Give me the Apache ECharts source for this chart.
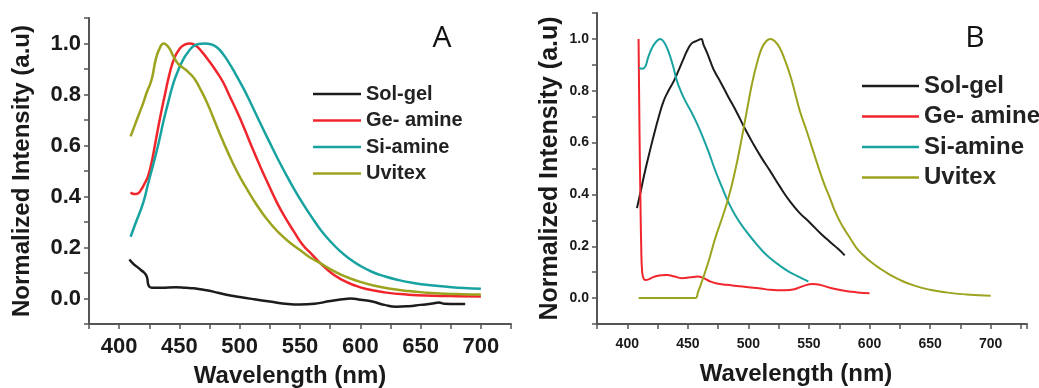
<!DOCTYPE html>
<html>
<head>
<meta charset="utf-8">
<script src="https://cdn.jsdelivr.net/npm/echarts@6/dist/echarts.min.js"></script>
<style>
  html, body { margin: 0; padding: 0; background: #fff; }
  #chart { width: 1039px; height: 388px; }
</style>
</head>
<body>
<div id="chart"></div>
<script>
// panel A: [wavelength nm, normalized intensity]
const solgelA = [[408.5, 0.153], [412, 0.135], [415, 0.124], [418, 0.112], [421, 0.1], [423, 0.085], [424.5, 0.05], [427, 0.042], [435, 0.042], [447, 0.044], [455, 0.042], [462, 0.04], [470, 0.034], [478, 0.027], [488, 0.016], [500, 0.006], [512, -0.003], [525, -0.012], [540, -0.022], [550, -0.024], [562, -0.021], [575, -0.01], [585, -0.003], [592, 0.0], [600, -0.005], [610, -0.012], [620, -0.025], [630, -0.032], [640, -0.03], [650, -0.025], [660, -0.02], [665, -0.016], [670, -0.021], [680, -0.022], [687, -0.022]]
const geA = [[409.5, 0.416], [412, 0.41], [415, 0.411], [418, 0.425], [421, 0.45], [424, 0.48], [427, 0.535], [430, 0.61], [434, 0.71], [438, 0.8], [442, 0.885], [446, 0.945], [450, 0.978], [454, 0.995], [459, 1.0], [464, 0.99], [469, 0.965], [474, 0.935], [480, 0.895], [486, 0.85], [492, 0.79], [498, 0.73], [504, 0.665], [510, 0.595], [517, 0.518], [524, 0.445], [531, 0.375], [538, 0.315], [545, 0.262], [552, 0.212], [560, 0.172], [567, 0.138], [576, 0.1], [585, 0.073], [595, 0.052], [605, 0.037], [620, 0.024], [640, 0.015], [660, 0.011], [680, 0.009], [700, 0.008]]
const siA = [[409.5, 0.242], [414, 0.3], [420, 0.376], [424, 0.45], [428.5, 0.53], [433, 0.615], [437, 0.7], [441, 0.775], [445, 0.845], [449, 0.895], [453, 0.936], [457, 0.965], [461.5, 0.989], [466, 0.998], [471, 1.0], [476, 0.997], [481, 0.985], [486, 0.96], [491, 0.925], [496, 0.885], [503, 0.825], [510, 0.758], [517, 0.688], [524, 0.62], [531, 0.553], [538, 0.49], [545, 0.43], [552, 0.375], [560, 0.317], [567, 0.27], [575, 0.225], [583, 0.187], [591, 0.156], [600, 0.128], [610, 0.104], [620, 0.087], [632, 0.072], [644, 0.061], [658, 0.052], [672, 0.046], [686, 0.041], [700, 0.038]]
const uvA = [[409.5, 0.636], [413, 0.68], [417, 0.73], [420, 0.767], [423, 0.81], [426, 0.845], [428, 0.88], [430, 0.93], [433, 0.975], [437, 1.0], [441, 0.985], [445, 0.95], [449, 0.92], [453, 0.905], [458, 0.885], [463, 0.858], [468, 0.815], [473, 0.767], [478, 0.71], [484, 0.64], [490, 0.575], [497, 0.505], [504, 0.445], [511, 0.39], [518, 0.34], [525, 0.297], [533, 0.255], [542, 0.218], [550, 0.19], [558, 0.162], [567, 0.138], [575, 0.115], [583, 0.096], [591, 0.08], [600, 0.065], [612, 0.05], [625, 0.038], [640, 0.029], [655, 0.023], [670, 0.019], [685, 0.017], [700, 0.016]]

// panel B
const solgelB = [[408, 0.347], [411, 0.41], [414, 0.476], [418, 0.555], [422, 0.63], [426, 0.7], [430, 0.76], [434, 0.8], [438.7, 0.84], [442, 0.875], [446.6, 0.925], [450, 0.96], [453, 0.982], [456, 0.99], [459, 0.996], [461, 1.0], [463, 0.977], [466, 0.945], [468.6, 0.913], [472, 0.875], [476.8, 0.835], [483, 0.78], [490, 0.72], [497, 0.655], [504, 0.595], [511, 0.54], [518, 0.49], [526, 0.43], [534, 0.375], [542, 0.33], [551, 0.29], [559, 0.252], [567, 0.218], [574, 0.19], [579.5, 0.165]]
const geB = [[409.3, 1.0], [410.2, 0.6], [410.8, 0.4], [411.5, 0.2], [412.3, 0.1], [413.5, 0.075], [415, 0.07], [418, 0.073], [422, 0.082], [428, 0.088], [433, 0.089], [439, 0.083], [445, 0.077], [452, 0.08], [458, 0.083], [463, 0.077], [468, 0.065], [474, 0.056], [482, 0.051], [490, 0.047], [500, 0.042], [510, 0.037], [518, 0.032], [530, 0.03], [538, 0.034], [545, 0.046], [553, 0.054], [560, 0.05], [568, 0.039], [578, 0.029], [590, 0.022], [600, 0.019]]
const siB = [[409.9, 0.889], [412, 0.885], [414.8, 0.893], [417, 0.925], [420.3, 0.964], [424, 0.99], [427.2, 1.0], [430, 0.99], [434, 0.951], [437.5, 0.9], [441, 0.838], [444.5, 0.795], [448, 0.76], [452.7, 0.72], [457.4, 0.675], [462, 0.625], [467, 0.566], [472, 0.5], [478, 0.43], [483, 0.375], [489, 0.321], [497, 0.265], [505.5, 0.215], [512, 0.18], [518, 0.154], [526, 0.125], [533, 0.103], [540, 0.086], [545, 0.074], [549.5, 0.064]]
const uvB = [[409.4, 0.0], [430, 0.0], [456, 0.0], [458.5, 0.025], [461.6, 0.064], [467, 0.14], [472.6, 0.231], [478, 0.305], [483.5, 0.386], [489, 0.49], [494.5, 0.617], [499, 0.73], [502.8, 0.823], [507, 0.905], [511, 0.964], [514.5, 0.99], [518, 1.0], [522, 0.99], [526, 0.964], [530, 0.92], [534.4, 0.861], [538, 0.8], [542.6, 0.72], [547, 0.66], [551, 0.603], [555, 0.545], [559, 0.488], [563, 0.435], [567.4, 0.385], [571, 0.34], [575.6, 0.295], [580, 0.26], [584, 0.231], [589, 0.195], [595, 0.165], [601, 0.14], [608.6, 0.114], [617, 0.09], [625, 0.07], [637, 0.048], [650, 0.032], [663, 0.022], [680, 0.014], [700, 0.009]]

const names = ['Sol-gel', 'Ge- amine', 'Si-amine', 'Uvitex']
const colors = ['#1c1c1c', '#f0262c', '#18a3a0', '#9ca31e']

function xLabel (v) {
  return (v % 50 === 0 && v >= 400 && v <= 700) ? String(v) : ''
}
function yLabel (v) {
  const k = Math.round(v * 10)
  return (k % 2 === 0 && k >= 0 && k <= 10) ? (k / 10).toFixed(1) : ''
}

function xAxis (idx, size, gap, pad, margin) {
  return {
    type: 'value',
    gridIndex: idx,
    min: 375,
    max: idx === 0 ? 725 : 730,
    interval: 25,
    name: 'Wavelength (nm)',
    nameLocation: 'middle',
    nameGap: gap,
    nameTextStyle: { fontSize: 24, fontWeight: 'bold', color: '#1a1a1a', fontFamily: 'Liberation Sans', padding: pad },
    splitLine: { show: false },
    axisLine: { onZero: false, lineStyle: { color: '#555', width: 2 } },
    axisTick: { inside: false, length: 5, lineStyle: { color: '#555', width: 1.5 } },
    axisLabel: { formatter: xLabel, fontSize: size, fontWeight: 'bold', color: '#1a1a1a', fontFamily: 'Liberation Sans', margin: margin }
  }
}

function yAxis (idx, size, gap, nameSize) {
  return {
    type: 'value',
    gridIndex: idx,
    min: -0.1,
    max: 1.1,
    interval: 0.1,
    name: 'Normalized Intensity (a.u)',
    nameLocation: 'middle',
    nameGap: gap,
    nameTextStyle: { fontSize: nameSize, fontWeight: 'bold', color: '#1a1a1a', fontFamily: 'Liberation Sans' },
    splitLine: { show: false },
    axisLine: { show: true, onZero: false, lineStyle: { color: '#555', width: 2 } },
    axisTick: { show: true, inside: false, length: 5, lineStyle: { color: '#555', width: 1.5 } },
    axisLabel: { formatter: yLabel, fontSize: size, fontWeight: 'bold', color: '#1a1a1a', fontFamily: 'Liberation Sans', margin: 8 }
  }
}

function line (name, data, idx, width) {
  const i = names.indexOf(name)
  return {
    name: name,
    type: 'line',
    xAxisIndex: idx,
    yAxisIndex: idx,
    data: data,
    showSymbol: false,
    symbol: 'none',
    smooth: 0.5,
    lineStyle: { color: colors[i], width: width },
    itemStyle: { color: colors[i] },
    animation: false
  }
}

const option = {
  backgroundColor: '#fff',
  // outerBoundsMode none: keep the grid boxes where they are, names may sit outside
  grid: [
    { left: 89, top: 18, width: 422, height: 306, outerBoundsMode: 'none' },
    { left: 597, top: 13, width: 430, height: 311, outerBoundsMode: 'none' }
  ],
  xAxis: [xAxis(0, 22, 40, [0, 20, 0, 0], 12), xAxis(1, 14, 38, [0, 32, 0, 0], 13)],
  yAxis: [yAxis(0, 22, 55, 24), yAxis(1, 14, 34, 25)],
  legend: [
    {
      data: names,
      orient: 'vertical',
      left: 308,
      top: 78,
      icon: 'rect',
      itemWidth: 48,
      itemHeight: 2.5,
      itemGap: 4.5,
      textStyle: { fontSize: 20, fontWeight: 'bold', color: '#222', fontFamily: 'Liberation Sans', lineHeight: 22 },
      selectedMode: false
    },
    {
      data: names,
      orient: 'vertical',
      left: 857,
      top: 68,
      icon: 'rect',
      itemWidth: 57,
      itemHeight: 2.5,
      itemGap: 4.5,
      textStyle: { fontSize: 24, fontWeight: 'bold', color: '#222', fontFamily: 'Liberation Sans', lineHeight: 26 },
      selectedMode: false
    }
  ],
  graphic: [
    { type: 'text', x: 442, y: 38, style: { text: 'A', font: '30px "Open Sans"', fill: '#111', textAlign: 'center', textVerticalAlign: 'middle' } },
    { type: 'text', x: 975, y: 38, style: { text: 'B', font: '30px "Open Sans"', fill: '#111', textAlign: 'center', textVerticalAlign: 'middle' } }
  ],
  series: [
    line('Sol-gel', solgelA, 0, 2.5),
    line('Ge- amine', geA, 0, 2.5),
    line('Si-amine', siA, 0, 2.5),
    line('Uvitex', uvA, 0, 2.5),
    line('Sol-gel', solgelB, 1, 2),
    line('Ge- amine', geB, 1, 2),
    line('Si-amine', siB, 1, 2),
    line('Uvitex', uvB, 1, 2)
  ]
}

// legend 0 sits in grid 0, legend 1 in grid 1
const chart = echarts.init(document.getElementById('chart'))
chart.setOption(option)
</script>
</body>
</html>
